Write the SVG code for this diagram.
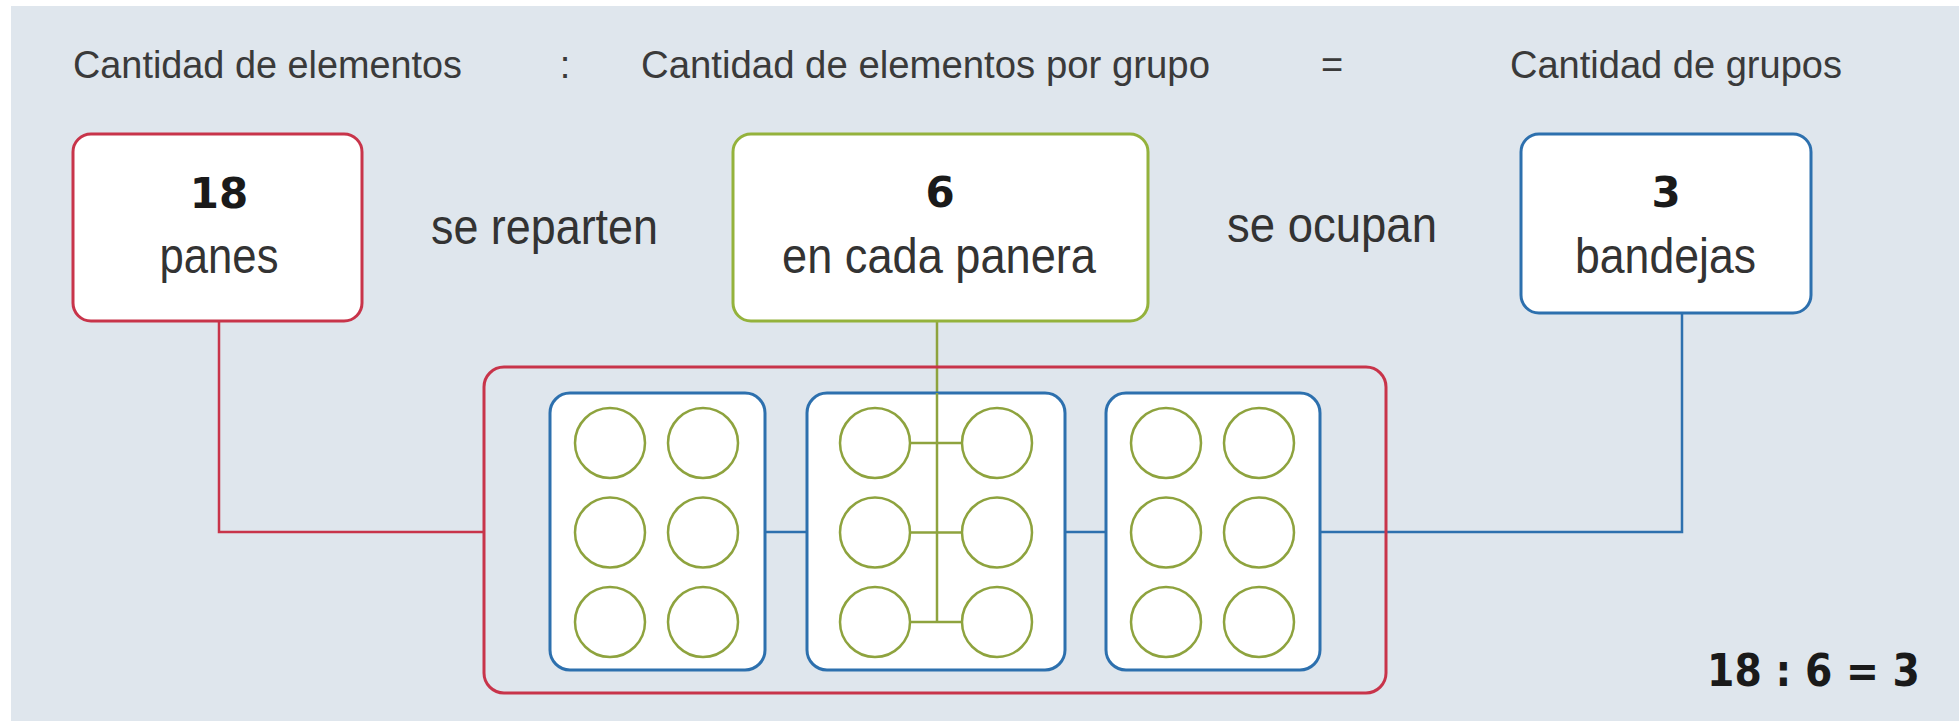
<svg xmlns="http://www.w3.org/2000/svg" width="1959" height="721" viewBox="0 0 1959 721">
<style>
.bg{fill:#dfe6ed}
.hd{font-family:"Liberation Sans",Arial,sans-serif;font-size:38px;fill:#3a3a3a}
.lbl{font-family:"Liberation Sans",Arial,sans-serif;font-size:50px;fill:#333}
.num{font-family:"DejaVu Sans",sans-serif;font-weight:bold;font-size:42px;fill:#1a1a1a}
.red{fill:#fff;stroke:#c8344a;stroke-width:3}
.grn{fill:#fff;stroke:#94b23c;stroke-width:3}
.blu{fill:#fff;stroke:#2d70ae;stroke-width:3}
.tray{fill:#fff;stroke:#2d70ae;stroke-width:3}
.ball{fill:#fff;stroke:#8ea33e;stroke-width:2.5}
.lr{fill:none;stroke:#c8344a;stroke-width:2.5}
.lg{fill:none;stroke:#8ea33e;stroke-width:2.5}
.lb{fill:none;stroke:#2d70ae;stroke-width:2.5}
</style>
<rect x="0" y="0" width="1959" height="721" fill="#ffffff"/>
<rect class="bg" x="11" y="6" width="1948" height="715"/>

<g id="headings">
<text class="hd" x="73" y="78" textLength="389" lengthAdjust="spacingAndGlyphs">Cantidad de elementos</text>
<text class="hd" x="565" y="78" text-anchor="middle">:</text>
<text class="hd" x="641" y="78" textLength="569" lengthAdjust="spacingAndGlyphs">Cantidad de elementos por grupo</text>
<text class="hd" x="1332" y="78" text-anchor="middle">=</text>
<text class="hd" x="1510" y="78" textLength="332" lengthAdjust="spacingAndGlyphs">Cantidad de grupos</text>
</g>

<g id="connectors">
<path class="lr" d="M219 321 V532 H484"/>
<path class="lg" d="M937 321 V622 M910 443 H962 M910 532.5 H962 M910 622 H962"/>
<path class="lb" d="M765 532 H807 M1065 532 H1106 M1320 532 H1682 V313"/>
</g>

<g id="node-panes">
<rect class="red" x="73" y="134" width="289" height="187" rx="18"/>
<text class="num" x="219" y="208" text-anchor="middle">18</text>
<text class="lbl" x="219" y="273" text-anchor="middle" textLength="119" lengthAdjust="spacingAndGlyphs">panes</text>
</g>

<text id="label-reparten" class="lbl" x="431" y="244" textLength="227" lengthAdjust="spacingAndGlyphs">se reparten</text>

<g id="node-panera">
<rect class="grn" x="733" y="134" width="415" height="187" rx="18"/>
<text class="num" x="940" y="207" text-anchor="middle">6</text>
<text class="lbl" x="782" y="273" textLength="314" lengthAdjust="spacingAndGlyphs">en cada panera</text>
</g>

<text id="label-ocupan" class="lbl" x="1227" y="242" textLength="210" lengthAdjust="spacingAndGlyphs">se ocupan</text>

<g id="node-bandejas">
<rect class="blu" x="1521" y="134" width="290" height="179" rx="18"/>
<text class="num" x="1666" y="207" text-anchor="middle">3</text>
<text class="lbl" x="1575" y="273" textLength="181" lengthAdjust="spacingAndGlyphs">bandejas</text>
</g>

<g id="node-total">
<rect x="484" y="367" width="902" height="326" rx="20" fill="none" stroke="#c8344a" stroke-width="3"/>
</g>

<g id="tray-1">
<rect class="tray" x="550" y="393" width="215" height="277" rx="20"/>
<circle class="ball" cx="610" cy="443" r="35"/><circle class="ball" cx="703" cy="443" r="35"/>
<circle class="ball" cx="610" cy="532.5" r="35"/><circle class="ball" cx="703" cy="532.5" r="35"/>
<circle class="ball" cx="610" cy="622" r="35"/><circle class="ball" cx="703" cy="622" r="35"/>
</g>

<g id="tray-2">
<rect class="tray" x="807" y="393" width="258" height="277" rx="20"/>
<path class="lg" d="M937 393 V622 M910 443 H962 M910 532.5 H962 M910 622 H962"/>
<circle class="ball" cx="875" cy="443" r="35"/><circle class="ball" cx="997" cy="443" r="35"/>
<circle class="ball" cx="875" cy="532.5" r="35"/><circle class="ball" cx="997" cy="532.5" r="35"/>
<circle class="ball" cx="875" cy="622" r="35"/><circle class="ball" cx="997" cy="622" r="35"/>
</g>

<g id="tray-3">
<rect class="tray" x="1106" y="393" width="214" height="277" rx="20"/>
<circle class="ball" cx="1166" cy="443" r="35"/><circle class="ball" cx="1259" cy="443" r="35"/>
<circle class="ball" cx="1166" cy="532.5" r="35"/><circle class="ball" cx="1259" cy="532.5" r="35"/>
<circle class="ball" cx="1166" cy="622" r="35"/><circle class="ball" cx="1259" cy="622" r="35"/>
</g>

<text id="equation" x="1707" y="686" font-family="'DejaVu Sans',sans-serif" font-weight="bold" font-size="45" fill="#1a1a1a" textLength="213" lengthAdjust="spacingAndGlyphs">18 : 6 = 3</text>
</svg>
